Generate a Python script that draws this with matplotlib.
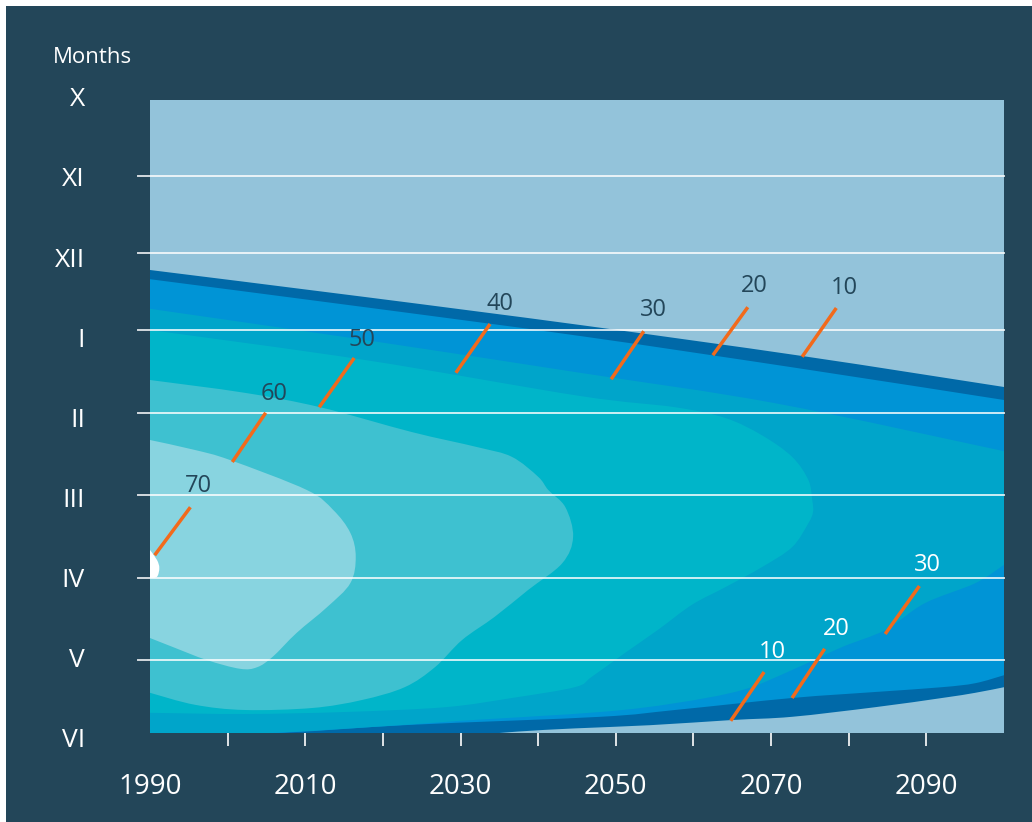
import matplotlib
matplotlib.use("Agg")
import matplotlib.pyplot as plt
from matplotlib.patches import Rectangle, PathPatch
from matplotlib.path import Path

plt.rcParams['font.family'] = ['Open Sans', 'DejaVu Sans']

# y axis: months from X (top, 0) downwards
month_labels = ["X", "XI", "XII", "I", "II", "III", "IV", "V", "VI"]
label_pos = [0, 1, 2, 3, 4, 5, 6, 7, 8]
grid_pos = [0.95, 1.91, 2.875, 3.91, 4.94, 5.975, 7.0]

year_ticks = list(range(1990, 2100, 10))
year_labels = ["1990", "", "2010", "", "2030", "", "2050", "", "2070", "", "2090"]

# bands that cross the whole period: upper and lower edges (year, month position)
lvl10_up_x = [1990, 2017.7, 2045.4, 2074.0, 2100]
lvl10_up_y = [2.125, 2.4625, 2.8125, 3.2, 3.5875]
lvl10_lo_x = [1990, 2022.2, 2030.0, 2037.3, 2044.7, 2054.4, 2065.0, 2072.7, 2083.4, 2092.0,
              2096.3, 2100]
lvl10_lo_y = [8.06, 7.99, 7.95, 7.895, 7.855, 7.815, 7.75, 7.71, 7.59, 7.475, 7.41, 7.34]

lvl20_up_x = [1990, 2017.7, 2045.4, 2074.0, 2100]
lvl20_up_y = [2.24, 2.59, 2.95, 3.36, 3.75]
lvl20_lo_x = [1990, 2007.1, 2023.7, 2048.0, 2057.6, 2072.7, 2083.4, 2092.0, 2096.3, 2100]
lvl20_lo_y = [7.975, 7.91, 7.81, 7.71, 7.625, 7.475, 7.40, 7.34, 7.29, 7.19]

lvl30_up_x = [1990, 2017.7, 2045.4, 2070.5, 2100]
lvl30_up_y = [2.61, 3.0, 3.41, 3.79, 4.39]
lvl30_lo_x = [1990, 2007.1, 2023.7, 2030.0, 2048.0, 2057.6, 2066.3, 2072.7, 2079.1, 2084.7,
              2089.8, 2096.3, 2100]
lvl30_lo_y = [7.97, 7.905, 7.805, 7.76, 7.65, 7.54, 7.375, 7.125, 6.84, 6.625,
              6.29, 6.04, 5.81]

# closed areas starting at 1990: outline from top-left round to bottom-left
lvl40_x = [1990, 2017.7, 2045.4, 2057.6, 2064.1, 2068.8, 2072.7, 2074.8, 2075.3, 2075.4,
           2074.8, 2072.7, 2068.8, 2064.1, 2059.8, 2055.4, 2051.2, 2046.9, 2044.7,
           2036.6, 2028.0, 2015.1, 2002.2, 1990]
lvl40_y = [2.875, 3.25, 3.7, 3.84, 3.975, 4.19, 4.46, 4.75, 5.0, 5.15,
           5.29, 5.59, 5.84, 6.09, 6.31, 6.625, 6.91, 7.21, 7.34,
           7.475, 7.59, 7.65, 7.675, 7.66]

lvl50_x = [1990, 2002.2, 2011.9, 2023.7, 2032.2, 2036.6, 2040.0, 2041.3, 2043.5, 2044.5,
           2043.1, 2038.7, 2034.4, 2030.2, 2026.7, 2022.8, 2017.3, 2010.9, 2002.2, 1995.8, 1990]
lvl50_y = [3.5, 3.66, 3.84, 4.15, 4.34, 4.46, 4.71, 4.875, 5.09, 5.46,
           5.79, 6.125, 6.46, 6.75, 7.09, 7.34, 7.5, 7.6, 7.625, 7.56, 7.41]

lvl60_x = [1990, 1995.8, 2000.3, 2010.2, 2013.6, 2015.8, 2016.5, 2015.8, 2012.8,
           2008.9, 2005.8, 2003.8, 2001.6, 1997.3, 1993.0, 1990]
lvl60_y = [4.25, 4.375, 4.5, 4.875, 5.125, 5.41, 5.71, 6.04, 6.34,
           6.66, 6.96, 7.09, 7.11, 7.0, 6.84, 6.725]

lvl70_x = [1990, 1990.9, 1991.2, 1990.9, 1990]
lvl70_y = [5.625, 5.75, 5.85, 5.96, 5.975]

bands = [
    (lvl10_up_x, lvl10_up_y, lvl10_lo_x, lvl10_lo_y, "#0069a8"),
    (lvl20_up_x, lvl20_up_y, lvl20_lo_x, lvl20_lo_y, "#0094d6"),
    (lvl30_up_x, lvl30_up_y, lvl30_lo_x, lvl30_lo_y, "#00a5ca"),
]
blobs = [
    (lvl40_x, lvl40_y, "#00b5c9"),
    (lvl50_x, lvl50_y, "#3ec1d0"),
    (lvl60_x, lvl60_y, "#88d4e0"),
    (lvl70_x, lvl70_y, "#ffffff"),
]

# contour labels: text, label position, leader start, leader end, text colour
contour_labels = [
    ("70", (1996.3, 4.825), (1995.2, 5.09), (1990.6, 5.69), "#234659"),
    ("60", (2006.0, 3.675), (2004.9, 3.91), (2000.6, 4.525), "#234659"),
    ("50", (2017.3, 3.0), (2016.3, 3.225), (2011.8, 3.84), "#234659"),
    ("40", (2035.1, 2.55), (2033.8, 2.8), (2029.4, 3.41), "#234659"),
    ("30", (2054.8, 2.625), (2053.6, 2.89), (2049.4, 3.49), "#234659"),
    ("20", (2067.9, 2.325), (2067.0, 2.59), (2062.5, 3.19), "#234659"),
    ("10", (2079.4, 2.35), (2078.4, 2.6), (2074.0, 3.21), "#234659"),
    ("10", (2070.2, 6.9), (2069.1, 7.15), (2064.8, 7.76), "white"),
    ("20", (2078.4, 6.61), (2076.9, 6.86), (2072.7, 7.475), "white"),
    ("30", (2090.2, 5.81), (2089.1, 6.075), (2084.7, 6.675), "white"),
]


def smooth(xs, ys):
    # bezier segments through the read points (catmull-rom style handles)
    pts = list(zip(xs, ys))
    n = len(pts)
    verts, codes = [pts[0]], [Path.MOVETO]
    for i in range(n - 1):
        p0, p1 = pts[max(i - 1, 0)], pts[i]
        p2, p3 = pts[i + 1], pts[min(i + 2, n - 1)]
        c1 = (p1[0] + (p2[0] - p0[0]) / 6, p1[1] + (p2[1] - p0[1]) / 6)
        c2 = (p2[0] - (p3[0] - p1[0]) / 6, p2[1] - (p3[1] - p1[1]) / 6)
        verts += [c1, c2, p2]
        codes += [Path.CURVE4] * 3
    return verts, codes


navy = "#234659"
fig = plt.figure(figsize=(10.32, 8.22), dpi=100, facecolor="white")
fig.add_artist(Rectangle((6 / 1032, 0), 1, (822 - 6) / 822, transform=fig.transFigure,
                         facecolor=navy, edgecolor="none", zorder=-10))

ax = fig.add_axes([150 / 1032, 89 / 822, 854 / 1032, 633 / 822])
ax.set_facecolor("#93c3da")
ax.set_xlim(1990, 2100)
ax.set_ylim(7.9125, 0)

for ux, uy, lx, ly, col in bands:
    v1, c1 = smooth(ux, uy)
    v2, c2 = smooth(lx[::-1], ly[::-1])
    c2[0] = Path.LINETO
    verts = v1 + v2 + [v1[0]]
    codes = c1 + c2 + [Path.CLOSEPOLY]
    ax.add_patch(PathPatch(Path(verts, codes), facecolor=col, edgecolor="none", zorder=1))

for xs, ys, col in blobs:
    v, c = smooth(xs, ys)
    ax.add_patch(PathPatch(Path(v + [v[0]], c + [Path.CLOSEPOLY]), facecolor=col,
                           edgecolor="none", zorder=1))

for g in grid_pos:
    ax.axhline(g, xmin=-12 / 854, xmax=1, color="white", alpha=0.8, lw=1.4,
               clip_on=False, zorder=2)

for lab, pos in zip(month_labels, label_pos):
    ax.text(-65 / 854, pos, lab, transform=ax.get_yaxis_transform(), ha="right",
            va="center", fontsize=19, color="white", clip_on=False)

ax.set_yticks([])
ax.set_xticks(year_ticks)
ax.set_xticklabels(year_labels)
ax.tick_params(axis="x", colors="white", length=9, width=1.2, pad=20, labelsize=20)
ax.xaxis.get_major_ticks()[0].tick1line.set_visible(False)
for s in ax.spines.values():
    s.set_visible(False)

for txt, (lx, ly), (x0, y0), (x1, y1), col in contour_labels:
    ax.plot([x0, x1], [y0, y1], color="#f26a1b", lw=2.5, solid_capstyle="butt", zorder=3,
            clip_on=False)
    ax.text(lx, ly, txt, ha="center", va="center", fontsize=17, color=col, zorder=4)

fig.text(53 / 1032, 1 - 63 / 822, "Months", ha="left", va="baseline", fontsize=16,
         color="white")

fig.savefig("out.png", dpi=100, facecolor=fig.get_facecolor())
